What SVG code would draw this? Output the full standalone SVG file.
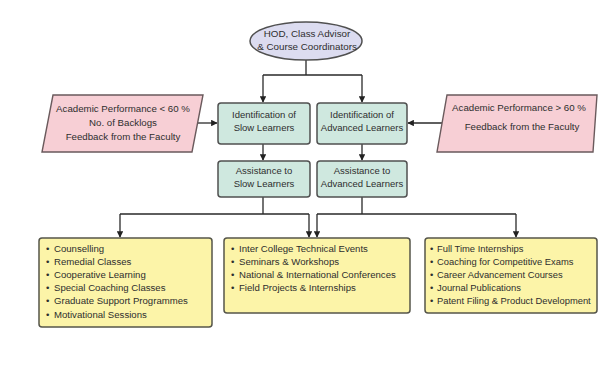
<svg xmlns="http://www.w3.org/2000/svg" width="608" height="380" viewBox="0 0 608 380">
  <defs>
    <marker id="arrow" viewBox="0 0 10 10" refX="9" refY="5" markerWidth="6.5" markerHeight="6.5" markerUnits="userSpaceOnUse" orient="auto">
      <path d="M0,0 L10,5 L0,10 z" fill="#222"/>
    </marker>
    <style>
      text { font-family: "Liberation Sans", Arial, sans-serif; fill: #2e2e2e; }
      .hdr { font-size: 9.8px; text-anchor: middle; }
      .mid { font-size: 9.5px; text-anchor: middle; }
      .crit { font-size: 9.7px; text-anchor: middle; }
      .list { font-size: 9.6px; }
      .list-sm { font-size: 9.4px; }
      .oval { fill: #dcdcf0; stroke: #505050; stroke-width: 1.5; }
      .step { fill: #cfe8df; stroke: #505050; stroke-width: 1.5; }
      .crit-box { fill: #f7cfd5; stroke: #6a5a5c; stroke-width: 1.4; }
      .list-box { fill: #fcf4a8; stroke: #55554a; stroke-width: 1.5; }
      .conn { fill: none; stroke: #2a2a2a; stroke-width: 1.3; }
      .conn-arrow { fill: none; stroke: #2a2a2a; stroke-width: 1.3; marker-end: url(#arrow); }
    </style>
  </defs>

  <rect x="0" y="0" width="608" height="380" fill="#ffffff"/>

  <!-- connectors -->
  <g id="connectors">
    <path class="conn" d="M306 60 V75 M263 75 H362"/>
    <path class="conn-arrow" d="M263 75 V102"/>
    <path class="conn-arrow" d="M362 75 V102"/>
    <path class="conn-arrow" d="M198 123 H217"/>
    <path class="conn-arrow" d="M442 123 H408"/>
    <path class="conn-arrow" d="M263 144 V160"/>
    <path class="conn-arrow" d="M362 144 V160"/>
    <path class="conn" d="M263 197 V214 M120 214 H309"/>
    <path class="conn-arrow" d="M120 214 V237"/>
    <path class="conn-arrow" d="M309 214 V237"/>
    <path class="conn" d="M362 197 V214 M317 214 H516"/>
    <path class="conn-arrow" d="M317 214 V237"/>
    <path class="conn-arrow" d="M516 214 V237"/>
  </g>

  <g id="coordinators">
    <ellipse class="oval" cx="306" cy="41" rx="56" ry="19"/>
    <text class="hdr" x="307" y="37">HOD, Class Advisor</text>
    <text class="hdr" x="307" y="50">&amp; Course Coordinators</text>
  </g>

  <g id="criteria-slow">
    <polygon class="crit-box" points="53,95 203,95 192,152 42,152"/>
    <text class="crit" x="123" y="112">Academic Performance &lt; 60 %</text>
    <text class="crit" x="123" y="126">No. of Backlogs</text>
    <text class="crit" x="123" y="140">Feedback from the Faculty</text>
  </g>

  <g id="criteria-advanced">
    <polygon class="crit-box" points="447,95 597,95 593,152 437,152"/>
    <text class="crit" x="519" y="111">Academic Performance &gt; 60 %</text>
    <text class="crit" x="522" y="130">Feedback from the Faculty</text>
  </g>

  <g id="identify-slow">
    <rect class="step" x="218" y="103" width="92" height="41" rx="3"/>
    <text class="mid" x="264" y="118">Identification of</text>
    <text class="mid" x="264" y="131">Slow Learners</text>
  </g>

  <g id="identify-advanced">
    <rect class="step" x="317" y="103" width="90" height="41" rx="3"/>
    <text class="mid" x="362" y="118">Identification of</text>
    <text class="mid" x="362" y="131">Advanced Learners</text>
  </g>

  <g id="assist-slow">
    <rect class="step" x="218" y="161" width="92" height="36" rx="3"/>
    <text class="mid" x="264" y="174">Assistance to</text>
    <text class="mid" x="264" y="187">Slow Learners</text>
  </g>

  <g id="assist-advanced">
    <rect class="step" x="317" y="161" width="90" height="36" rx="3"/>
    <text class="mid" x="362" y="174">Assistance to</text>
    <text class="mid" x="362" y="187">Advanced Learners</text>
  </g>

  <g id="slow-activities">
    <rect class="list-box" x="39" y="238" width="173" height="89" rx="3"/>
    <text class="list" x="46" y="252">•</text><text class="list" x="54" y="252">Counselling</text>
    <text class="list" x="46" y="265">•</text><text class="list" x="54" y="265">Remedial Classes</text>
    <text class="list" x="46" y="278">•</text><text class="list" x="54" y="278">Cooperative Learning</text>
    <text class="list" x="46" y="291">•</text><text class="list" x="54" y="291">Special Coaching Classes</text>
    <text class="list" x="46" y="304">•</text><text class="list" x="54" y="304">Graduate Support Programmes</text>
    <text class="list" x="46" y="318">•</text><text class="list" x="54" y="318">Motivational Sessions</text>
  </g>

  <g id="common-activities">
    <rect class="list-box" x="224" y="238" width="186" height="75" rx="3"/>
    <text class="list" x="231" y="252">•</text><text class="list" x="239" y="252">Inter College Technical Events</text>
    <text class="list" x="231" y="265">•</text><text class="list" x="239" y="265">Seminars &amp; Workshops</text>
    <text class="list" x="231" y="278">•</text><text class="list" x="239" y="278">National &amp; International Conferences</text>
    <text class="list" x="231" y="291">•</text><text class="list" x="239" y="291">Field Projects &amp; Internships</text>
  </g>

  <g id="advanced-activities">
    <rect class="list-box" x="425" y="238" width="172" height="75" rx="3"/>
    <text class="list-sm" x="430" y="252">•</text><text class="list-sm" x="437" y="252">Full Time Internships</text>
    <text class="list-sm" x="430" y="265">•</text><text class="list-sm" x="437" y="265">Coaching for Competitive Exams</text>
    <text class="list-sm" x="430" y="278">•</text><text class="list-sm" x="437" y="278">Career Advancement Courses</text>
    <text class="list-sm" x="430" y="291">•</text><text class="list-sm" x="437" y="291">Journal Publications</text>
    <text class="list-sm" x="430" y="304">•</text><text class="list-sm" x="437" y="304">Patent Filing &amp; Product Development</text>
  </g>
</svg>
